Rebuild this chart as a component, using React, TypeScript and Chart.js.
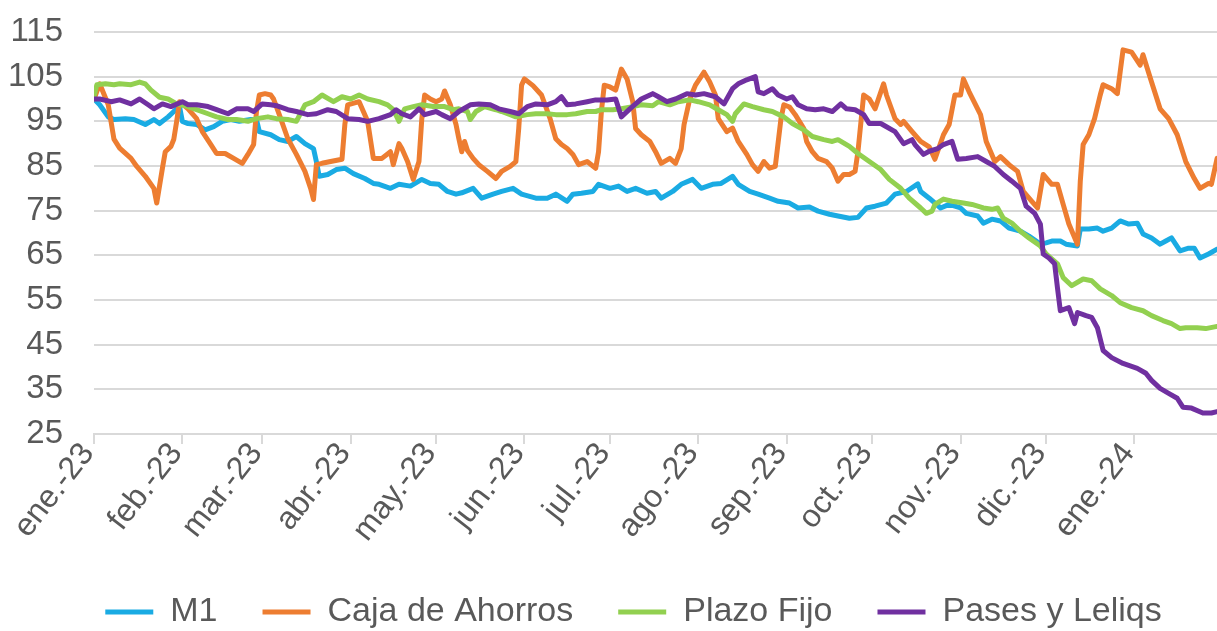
import React, { useEffect, useRef } from "react";
import { Chart, registerables } from "chart.js";

Chart.register(...registerables);

// Days counted from 1 Jan 2023
const monthTickDays = [0, 31, 59, 90, 120, 151, 181, 212, 243, 273, 304, 334, 365];
const monthTickLabels = [
  "ene.-23", "feb.-23", "mar.-23", "abr.-23", "may.-23", "jun.-23", "jul.-23",
  "ago.-23", "sep.-23", "oct.-23", "nov.-23", "dic.-23", "ene.-24",
];
const yTickValues = [25, 35, 45, 55, 65, 75, 85, 95, 105, 115];

const m1Days = [0, 2, 5, 7, 11, 14, 18, 21, 23, 26, 28, 30, 31, 33, 36, 39, 42, 45, 48, 51, 55, 57, 58, 62, 65, 68, 71, 74, 77, 78, 79, 82, 85, 88, 91, 95, 98, 100, 104, 107, 111, 115, 118, 121, 124, 127, 129, 133, 136, 140, 143, 147, 150, 155, 159, 162, 166, 168, 171, 175, 177, 181, 184, 187, 190, 194, 197, 199, 203, 206, 210, 213, 217, 220, 224, 226, 230, 233, 237, 240, 244, 247, 251, 254, 258, 261, 265, 268, 271, 274, 278, 281, 285, 289, 290, 293, 297, 300, 304, 306, 310, 312, 315, 318, 321, 325, 328, 332, 334, 336, 339, 341, 345, 346, 349, 352, 354, 357, 360, 363, 366, 368, 371, 374, 376, 378, 381, 384, 386, 388, 391, 394];
const m1Values = [100, 98.7, 96, 95.4, 95.6, 95.4, 94.3, 95.4, 94.5, 96, 97.2, 98.3, 95, 94.5, 94.3, 93.1, 93.8, 95, 95.4, 95, 95.4, 95.4, 92.7, 92, 90.9, 90.5, 91.6, 90, 88.9, 86, 82.7, 83.1, 84.2, 84.5, 83.3, 82.2, 81.1, 80.9, 80, 80.9, 80.5, 82, 81.1, 80.9, 79.3, 78.7, 79, 80, 77.8, 78.7, 79.3, 80, 78.7, 77.8, 77.8, 78.7, 77.1, 78.7, 78.9, 79.3, 80.9, 80, 80.5, 79.3, 80, 78.9, 79.3, 77.8, 79.3, 80.9, 82, 80, 80.9, 81.1, 82.7, 80.9, 79.3, 78.7, 77.8, 77.1, 76.7, 75.6, 75.8, 74.9, 74.2, 73.8, 73.3, 73.5, 75.6, 76, 76.7, 78.7, 79.3, 81, 79.3, 77.8, 75.6, 76.4, 75.6, 74.4, 73.8, 72.2, 73.1, 72.7, 71.1, 70.4, 69.3, 67.5, 67.8, 68.2, 68.2, 67.5, 67.1, 70.9, 70.9, 71.1, 70.4, 71.1, 72.7, 72, 72.2, 69.8, 68.9, 67.5, 68.2, 68.9, 66, 66.6, 66.6, 64.4, 65.3, 66.4];

const cajaDays = [0, 2, 5, 7, 9, 13, 15, 18, 21, 22, 24, 25, 27, 28, 29, 30, 33, 36, 38, 41, 43, 46, 49, 52, 54, 56, 57, 58, 60, 62, 63, 65, 68, 71, 74, 76, 77, 78, 80, 83, 87, 88, 89, 93, 96, 98, 101, 104, 105, 107, 108, 110, 112, 114, 115, 116, 118, 120, 122, 123, 125, 127, 128, 129, 130, 131, 133, 135, 138, 141, 143, 146, 148, 149, 150, 151, 154, 157, 160, 162, 164, 166, 168, 170, 173, 176, 177, 178, 179, 181, 183, 185, 187, 189, 190, 192, 195, 197, 199, 202, 204, 206, 207, 209, 211, 214, 216, 218, 219, 222, 224, 226, 229, 231, 233, 235, 237, 239, 241, 242, 244, 246, 249, 250, 252, 254, 257, 259, 261, 263, 265, 267, 268, 270, 272, 274, 277, 278, 281, 283, 284, 287, 290, 293, 295, 298, 300, 302, 304, 305, 307, 311, 313, 316, 318, 321, 324, 326, 329, 331, 333, 336, 338, 340, 342, 345, 346, 347, 349, 351, 353, 354, 357, 359, 360, 361, 364, 367, 368, 371, 374, 377, 380, 383, 386, 388, 391, 392, 394];
const cajaValues = [100, 103.4, 98.7, 91, 89, 86.7, 84.9, 82.7, 80, 76.7, 84.5, 88.2, 89.4, 91, 95, 99.4, 97.8, 95.6, 92.7, 89.8, 87.8, 87.8, 86.7, 85.6, 87.6, 89.8, 97.2, 100.9, 101.2, 100.9, 100, 96.5, 91.1, 87.6, 83.8, 80, 77.5, 85.3, 85.6, 86, 86.5, 94.3, 98.7, 99.4, 95, 86.7, 86.7, 88.2, 85.3, 90, 88.9, 86, 82, 86, 95.6, 100.9, 100, 99.4, 100, 101.8, 98.7, 94.3, 91.1, 88.2, 90.5, 88.5, 86.7, 85.3, 83.8, 82.2, 83.8, 84.9, 86, 93.4, 103.1, 104.5, 103, 100.9, 95.6, 91.1, 89.8, 88.9, 87.6, 85.3, 86, 84.5, 88.2, 97.2, 103.1, 102.7, 102, 106.7, 104.5, 99.4, 93.4, 92, 90.5, 88.2, 85.6, 86.7, 85.6, 88.9, 94.3, 100, 103.1, 106, 103.8, 100.9, 95.6, 92.7, 93.5, 90.5, 87.6, 85.3, 83.8, 86, 84.5, 84.9, 95.6, 98.7, 98.2, 96.5, 93.4, 90.5, 88.2, 86.7, 86, 84.5, 81.6, 83.1, 83.1, 83.8, 88.2, 100.9, 100, 97.8, 103.4, 100.9, 95.6, 94.3, 95, 92.7, 90.5, 89.3, 86.5, 92, 94.3, 100.9, 100.9, 104.5, 101.6, 96.5, 90.5, 86, 87.1, 85.3, 83.8, 79.3, 77.1, 75.6, 83.1, 80.9, 80.9, 76.4, 72, 67.5, 81.6, 89.8, 92, 95.6, 100.9, 103.2, 102.3, 101.2, 106.1, 111, 110.5, 107.6, 109.9, 103.8, 97.8, 95.6, 92, 86, 82.2, 80, 81.1, 80.9, 86.7];

const plazoDays = [0, 1, 4, 7, 9, 13, 16, 18, 20, 23, 26, 29, 33, 36, 40, 43, 47, 50, 54, 57, 61, 64, 68, 71, 74, 77, 80, 84, 87, 90, 93, 96, 100, 103, 105, 107, 109, 112, 115, 119, 123, 126, 128, 131, 132, 134, 137, 141, 143, 146, 148, 152, 155, 159, 162, 166, 169, 173, 176, 178, 182, 185, 189, 192, 196, 198, 202, 205, 209, 212, 216, 219, 222, 224, 225, 228, 231, 235, 238, 242, 245, 249, 252, 256, 259, 261, 265, 268, 272, 276, 279, 283, 286, 290, 292, 294, 295, 298, 301, 305, 308, 312, 315, 317, 319, 322, 325, 328, 332, 334, 338, 340, 343, 347, 350, 353, 357, 360, 364, 368, 371, 375, 378, 381, 383, 387, 390, 394];
const plazoValues = [100.5, 103.2, 103.4, 103.2, 103.4, 103.2, 103.8, 103.4, 102, 100.4, 100, 98.9, 98.3, 97.6, 96.7, 96, 95.4, 95.4, 95, 95.6, 96, 95.6, 95.4, 95, 98.7, 99.4, 100.9, 99.4, 100.5, 100, 100.9, 100, 99.4, 98.7, 97.6, 95, 97.8, 98.3, 98.7, 98.3, 98.3, 97.6, 97.8, 97.2, 95.4, 97.2, 98.3, 97.6, 97.2, 96.5, 96, 96.5, 96.7, 96.7, 96.5, 96.5, 96.7, 97.2, 97.2, 97.6, 97.6, 97.8, 98.3, 98.7, 98.5, 99.4, 98.7, 99.4, 99.8, 99.4, 98.7, 97.6, 96.5, 95, 96.7, 98.9, 98.3, 97.6, 97.2, 96, 94.5, 93.1, 91.6, 90.9, 90.5, 90.9, 89.4, 87.8, 86, 84.2, 82, 80, 77.8, 75.6, 74.4, 74.9, 76.4, 77.6, 77.1, 76.7, 76.4, 75.6, 75.3, 75.6, 73.3, 72.2, 70.4, 68.9, 67.1, 65.3, 63.1, 60, 58.2, 59.7, 59.3, 57.5, 56, 54.4, 53.3, 52.6, 51.5, 50.4, 49.7, 48.6, 48.8, 48.8, 48.6, 49.1];

const pasesDays = [0, 2, 6, 9, 13, 16, 19, 21, 24, 27, 31, 33, 36, 40, 43, 47, 50, 54, 56, 59, 62, 64, 68, 71, 75, 78, 82, 85, 89, 93, 96, 100, 104, 106, 108, 111, 114, 116, 120, 122, 125, 128, 132, 135, 139, 142, 146, 149, 152, 155, 159, 162, 164, 166, 169, 173, 176, 180, 183, 185, 188, 190, 192, 196, 198, 201, 204, 208, 211, 214, 218, 221, 224, 226, 229, 232, 233, 235, 238, 240, 243, 245, 247, 250, 253, 256, 259, 262, 264, 267, 270, 272, 276, 278, 281, 284, 287, 288, 291, 293, 296, 298, 301, 303, 306, 310, 313, 316, 319, 322, 325, 327, 330, 332, 333, 335, 337, 338, 339, 342, 344, 345, 348, 350, 352, 354, 357, 361, 366, 369, 371, 374, 377, 380, 382, 385, 389, 392, 394];
const pasesValues = [100, 100, 99.4, 99.8, 98.9, 100, 98.7, 97.8, 98.9, 98.3, 99.4, 98.7, 98.7, 98.3, 97.6, 96.7, 97.8, 97.8, 97.2, 98.9, 98.7, 98.5, 97.6, 97.2, 96.5, 96.7, 97.6, 97.2, 95.6, 95.4, 95, 95.6, 96.5, 97.6, 96.7, 96, 97.8, 96.5, 97.2, 96.5, 95.6, 97.2, 98.7, 98.9, 98.7, 97.8, 97.2, 96.7, 98.3, 98.9, 98.7, 99.4, 100.5, 98.7, 98.9, 99.4, 99.8, 99.8, 100, 96, 97.8, 98.9, 100, 101.2, 100.5, 99.4, 100, 101.2, 100.9, 101.2, 100.5, 98.9, 102.3, 103.4, 104.3, 105, 101.6, 101.2, 102.3, 100.9, 100, 100.5, 98.7, 97.8, 97.6, 97.8, 97.2, 98.9, 97.8, 97.6, 96.5, 94.5, 94.5, 93.8, 92.7, 90, 90.9, 89.8, 87.6, 88.3, 88.9, 89.8, 90.5, 86.5, 86.7, 87.1, 86, 84.9, 83.1, 81.6, 80, 76, 74.4, 72, 65.3, 64.4, 63.1, 57.7, 52.6, 53.3, 49.7, 52.2, 51.5, 51.1, 48.8, 43.7, 42.1, 40.8, 39.7, 38.6, 37, 35.2, 34.1, 33, 31, 30.8, 29.7, 29.7, 30];

// The original chart continues past the right edge of the picture, which is cropped
const X_AXIS_MAX_DAY = 411.5;
const CANVAS_WIDTH = 1267;
const CANVAS_HEIGHT = 639;

const FONT_FAMILY = "'Liberation Sans', Arial, sans-serif";
const TEXT_COLOR = "#595959";
const GRID_COLOR = "#d9d9d9";

const toPoints = (days: number[], values: number[]) =>
  days.map((d, i) => ({ x: d, y: values[i] }));

export default function App() {
  const canvasRef = useRef<HTMLCanvasElement | null>(null);

  useEffect(() => {
    const canvas = canvasRef.current;
    if (!canvas) return;
    const lineDefaults = {
      borderWidth: 5,
      pointRadius: 0,
      tension: 0,
      borderJoinStyle: "round" as const,
      borderCapStyle: "round" as const,
      fill: false,
    };
    const chart = new Chart(canvas, {
      type: "line",
      data: {
        datasets: [
          { label: "Pases y Leliqs", data: toPoints(pasesDays, pasesValues), borderColor: "#7030A0", backgroundColor: "#7030A0", ...lineDefaults },
          { label: "Plazo Fijo", data: toPoints(plazoDays, plazoValues), borderColor: "#92D050", backgroundColor: "#92D050", ...lineDefaults },
          { label: "Caja de Ahorros", data: toPoints(cajaDays, cajaValues), borderColor: "#ED7D31", backgroundColor: "#ED7D31", ...lineDefaults },
          { label: "M1", data: toPoints(m1Days, m1Values), borderColor: "#1AABE3", backgroundColor: "#1AABE3", ...lineDefaults },
        ],
      },
      options: {
        responsive: false,
        animation: false,
        devicePixelRatio: 1,
        parsing: false as any,
        layout: { padding: { top: 32, right: 0, bottom: 0, left: 0 } },
        plugins: {
          tooltip: { enabled: false },
          legend: {
            position: "bottom",
            labels: {
              usePointStyle: true,
              pointStyle: "line",
              pointStyleWidth: 48,
              padding: 45,
              color: TEXT_COLOR,
              font: { family: FONT_FAMILY, size: 34 },
              sort: (a: any, b: any) => b.datasetIndex - a.datasetIndex,
            },
          },
        },
        scales: {
          x: {
            type: "linear",
            min: 0,
            max: X_AXIS_MAX_DAY,
            afterBuildTicks: (scale: any) => {
              scale.ticks = monthTickDays.map((v) => ({ value: v }));
            },
            afterFit: (scale: any) => {
              scale.height = 116;
            },
            grid: { drawOnChartArea: false, drawTicks: true, tickLength: 10, color: GRID_COLOR, lineWidth: 2 },
            border: { display: true, color: GRID_COLOR, width: 2 },
            ticks: {
              autoSkip: false,
              minRotation: 52,
              maxRotation: 52,
              padding: -8,
              labelOffset: -6,
              color: TEXT_COLOR,
              font: { family: FONT_FAMILY, size: 32 },
              callback: (_v: any, i: number) => monthTickLabels[i],
            },
          },
          y: {
            min: 25,
            max: 115,
            afterBuildTicks: (scale: any) => {
              scale.ticks = yTickValues.map((v) => ({ value: v }));
            },
            afterFit: (scale: any) => {
              scale.width = 94;
            },
            grid: {
              color: GRID_COLOR,
              lineWidth: 2,
              drawTicks: true,
              tickLength: 31,
              tickColor: "rgba(0,0,0,0)",
            },
            border: { display: false },
            ticks: {
              autoSkip: false,
              padding: 0,
              color: TEXT_COLOR,
              font: { family: FONT_FAMILY, size: 33 },
            },
          },
        },
      },
    } as any);
    return () => chart.destroy();
  }, []);

  return (
    <div
      style={{
        position: "fixed",
        left: 0,
        top: 0,
        width: 1217,
        height: 631,
        overflow: "hidden",
        background: "#ffffff",
      }}
    >
      <canvas
        ref={canvasRef}
        width={CANVAS_WIDTH}
        height={CANVAS_HEIGHT}
        style={{ display: "block", width: CANVAS_WIDTH, height: CANVAS_HEIGHT }}
      />
    </div>
  );
}
